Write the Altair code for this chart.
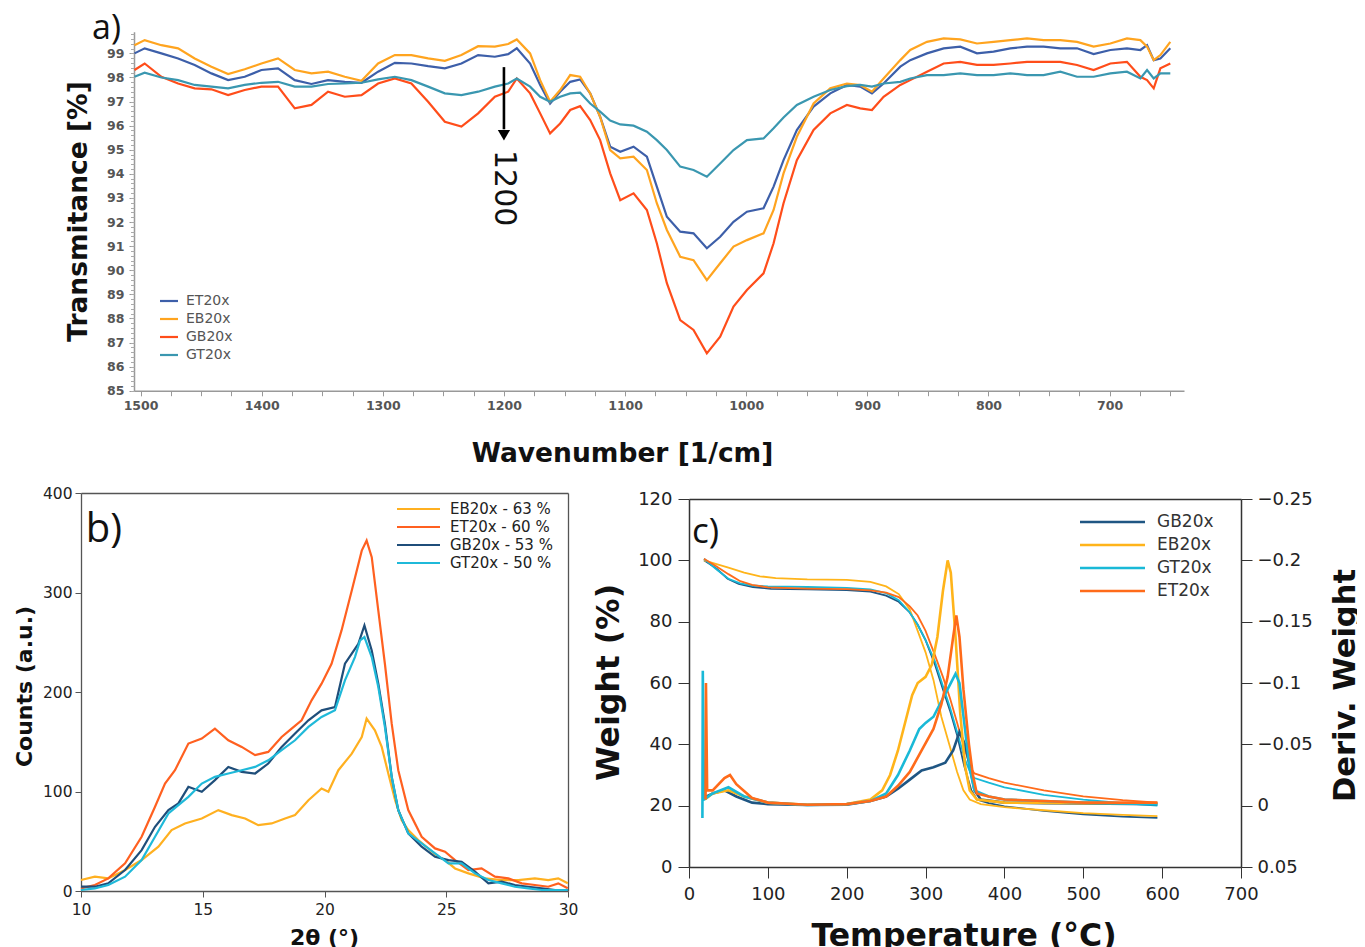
import altair as alt
import pandas as pd

# ---------------- layout constants (chart area = image minus 8px page margin) ----------------
W_CH, H_CH = 1349, 939
F = "DejaVu Sans"
F2 = "Open Sans"

# ---------------- panel a) FTIR ----------------
a_samples = ["ET20x", "EB20x", "GB20x", "GT20x"]
a_colors = ["#3d5fa9", "#ffa41f", "#ff4d1a", "#3a97b0"]
a_wavenumber = [1505, 1496.6, 1482.8, 1469.0, 1455.3, 1441.5, 1427.7, 1414.0, 1400.2, 1386.5, 1372.7,
                1358.9, 1345.2, 1331.4, 1317.6, 1303.9, 1290.1, 1276.4, 1262.6, 1248.8, 1235.1, 1221.3,
                1207.5, 1196.5,
                1189.4, 1178.4, 1170.1, 1161.9, 1153.6, 1145.3, 1137.1, 1128.8, 1120.6, 1112.3, 1104.0,
                1093.0, 1082.0, 1073.8, 1065.5, 1054.5, 1043.5, 1032.5, 1021.5, 1010.5, 999.4, 985.7,
                977.4, 969.2, 958.2, 944.4, 930.6, 916.9, 905.9, 896.2, 886.6, 872.8,
                864.6, 850.8, 837.0, 823.3, 809.5, 795.8, 782.0, 768.2, 754.5, 740.7, 726.9, 713.2,
                699.4, 685.7, 674.6, 669.1, 663.6, 658.1, 649.9]
a_EB20x = [99.34, 99.55, 99.34, 99.21, 98.79, 98.45, 98.14, 98.34, 98.58, 98.79, 98.31, 98.17, 98.24,
           98.03, 97.86, 98.58, 98.93, 98.93, 98.79, 98.69, 98.93, 99.30, 99.28, 99.39,
           99.58, 99.00, 97.89, 96.99, 97.48, 98.10, 98.03, 97.34, 96.37, 94.99, 94.64, 94.71, 94.16,
           92.78, 91.67, 90.56, 90.42, 89.59, 90.29, 90.98, 91.25, 91.53, 92.50, 94.02, 95.54, 96.92,
           97.55, 97.75, 97.69, 97.41, 97.96, 98.72,
           99.14, 99.48, 99.62, 99.58, 99.41, 99.48, 99.55, 99.62, 99.55, 99.55, 99.48, 99.28, 99.41,
           99.62, 99.55, 99.28, 98.72, 98.93, 99.48]
a_ET20x = [99.00, 99.21, 99.00, 98.79, 98.52, 98.17, 97.89, 98.03, 98.31, 98.38, 97.89, 97.73, 97.89,
           97.82, 97.78, 98.24, 98.61, 98.58, 98.47, 98.38, 98.58, 98.93, 98.86, 98.97,
           99.21, 98.58, 97.69, 96.92, 97.41, 97.82, 97.92, 97.34, 96.37, 95.13, 94.92, 95.13, 94.71,
           93.47, 92.22, 91.60, 91.53, 90.91, 91.39, 92.01, 92.43, 92.57, 93.47, 94.57, 95.82, 96.79,
           97.34, 97.69, 97.62, 97.34, 97.75, 98.45,
           98.72, 99.00, 99.21, 99.28, 99.00, 99.07, 99.21, 99.28, 99.28, 99.21, 99.21, 98.97, 99.14,
           99.21, 99.14, 99.34, 98.72, 98.79, 99.21]
a_GB20x = [98.31, 98.58, 98.03, 97.75, 97.55, 97.51, 97.27, 97.48, 97.62, 97.62, 96.72, 96.86, 97.41,
           97.20, 97.27, 97.75, 97.96, 97.75, 96.99, 96.16, 95.96, 96.51, 97.20, 97.41,
           97.96, 97.34, 96.51, 95.68, 96.09, 96.65, 96.81, 96.23, 95.40, 94.02, 92.91, 93.19, 92.50,
           91.12, 89.46, 87.93, 87.52, 86.55, 87.24, 88.49, 89.18, 89.87, 91.12, 92.78, 94.57, 95.82,
           96.51, 96.86, 96.72, 96.65, 97.20, 97.69,
           97.89, 98.24, 98.58, 98.65, 98.52, 98.52, 98.58, 98.65, 98.65, 98.65, 98.52, 98.31, 98.58,
           98.65, 98.03, 97.89, 97.55, 98.38, 98.58]
a_GT20x = [98.03, 98.20, 98.00, 97.89, 97.69, 97.62, 97.55, 97.69, 97.78, 97.82, 97.62, 97.62, 97.73,
           97.75, 97.78, 97.92, 98.03, 97.89, 97.62, 97.34, 97.27, 97.41, 97.62, 97.75,
           97.96, 97.62, 97.20, 96.99, 97.20, 97.34, 97.37, 96.92, 96.58, 96.21, 96.05, 96.00, 95.75,
           95.40, 94.99, 94.30, 94.16, 93.88, 94.43, 94.99, 95.40, 95.47, 95.89, 96.34, 96.86, 97.20,
           97.48, 97.64, 97.69, 97.62, 97.75, 97.82,
           97.96, 98.10, 98.10, 98.17, 98.10, 98.10, 98.17, 98.10, 98.10, 98.24, 98.03, 98.03, 98.17,
           98.24, 97.96, 98.31, 97.96, 98.17, 98.17]
a_arrow_wn = [1200]
a_arrow_top = [98.43]
a_arrow_bottom = [95.85]
a_arrow_head = [95.6]
a_annot_text = ["1200"]
a_annot_t = [94.99]
a_major_x = list(range(700, 1501, 100))
a_minor_x = list(range(650, 1501, 25))
a_major_y = list(range(85, 100))
a_minor_y = [round(85 + 0.2 * i, 1) for i in range(75)]

# ---------------- panel b) XRD ----------------
b_samples = ["EB20x - 63 %", "ET20x - 60 %", "GB20x - 53 %", "GT20x - 50 %"]
b_colors = ["#ffb020", "#ff6020", "#1f4e7a", "#1fb9d9"]
b_EB_theta = [10.0, 10.57, 11.12, 11.81, 12.49, 13.18, 13.72, 14.27, 14.96, 15.64, 16.19, 16.74, 17.28,
              17.83, 18.38, 18.79, 19.34, 19.88, 20.16, 20.57, 21.12, 21.53, 21.73, 22.07, 22.35, 22.62,
              22.90, 23.17, 23.44, 23.85, 24.26, 24.67, 24.95, 25.36, 25.91, 26.59, 27.28, 27.96, 28.64,
              29.19, 29.60, 29.99]
b_EB_counts = [11.0, 14.4, 12.7, 21.1, 31.1, 44.5, 61.2, 67.9, 72.9, 81.3, 76.3, 72.9, 66.2, 67.9, 72.9,
               76.3, 91.3, 103.0, 99.7, 121.4, 138.1, 154.8, 173.2, 161.5, 144.8, 118.1, 91.3, 71.2,
               61.2, 51.2, 42.8, 34.4, 31.1, 22.7, 17.7, 12.7, 11.0, 11.0, 12.7, 11.0, 12.7, 7.7]
b_ET_theta = [10.0, 10.57, 11.12, 11.81, 12.49, 13.04, 13.45, 13.86, 14.41, 14.96, 15.50, 16.05, 16.60,
              17.15, 17.69, 18.24, 18.65, 19.06, 19.47, 19.88, 20.29, 20.70, 21.12, 21.53, 21.73, 21.94,
              22.21, 22.48, 22.76, 23.03, 23.44, 23.99, 24.54, 24.95, 25.36, 25.91, 26.45, 27.00, 27.55,
              28.10, 28.64, 29.19, 29.60, 29.99]
b_ET_counts = [2.7, 6.0, 12.7, 27.8, 54.5, 84.6, 108.0, 121.4, 148.2, 153.2, 163.2, 151.5, 144.8, 136.5,
               139.8, 154.8, 163.2, 171.6, 191.6, 208.4, 228.4, 261.9, 302.0, 342.1, 352.2, 335.5, 281.9,
               228.4, 168.2, 121.4, 81.3, 54.5, 42.8, 39.5, 31.1, 21.1, 22.7, 14.4, 12.7, 7.7, 6.0, 4.3,
               7.7, 2.7]
b_GB_theta = [10.0, 10.57, 11.12, 11.81, 12.49, 13.04, 13.59, 14.00, 14.41, 14.96, 15.50, 16.05, 16.60,
              17.15, 17.69, 18.24, 18.79, 19.34, 19.88, 20.43, 20.84, 21.12, 21.39, 21.64, 21.94, 22.21,
              22.48, 22.76, 23.03, 23.44, 23.99, 24.54, 25.09, 25.63, 26.18, 26.73, 27.28, 27.82, 28.37,
              28.92, 29.47, 29.99]
b_GB_counts = [4.3, 4.3, 7.7, 21.1, 41.1, 64.5, 81.3, 88.0, 104.7, 99.7, 111.4, 124.7, 119.7, 118.1,
               128.1, 144.8, 158.2, 171.6, 181.6, 184.9, 228.4, 238.5, 248.5, 266.9, 241.8, 208.4, 168.2,
               114.7, 81.3, 57.9, 44.5, 34.4, 31.1, 29.4, 19.4, 7.7, 9.4, 6.0, 4.3, 2.7, 1.0, 1.0]
b_GT_theta = [10.0, 10.57, 11.12, 11.81, 12.49, 13.04, 13.59, 14.00, 14.41, 14.96, 15.50, 16.05, 16.60,
              17.15, 17.69, 18.24, 18.79, 19.34, 19.88, 20.43, 20.84, 21.25, 21.46, 21.64, 21.94, 22.21,
              22.48, 22.76, 23.03, 23.44, 23.99, 24.54, 25.09, 25.63, 26.18, 26.73, 27.28, 27.82, 28.37,
              28.92, 29.47, 29.99]
b_GT_counts = [1.0, 2.7, 6.0, 14.4, 31.1, 54.5, 77.9, 86.3, 94.6, 108.0, 114.7, 118.1, 121.4, 124.7,
               131.4, 141.5, 151.5, 164.9, 174.9, 181.6, 211.7, 235.1, 251.8, 255.2, 235.1, 205.0, 164.9,
               114.7, 81.3, 57.9, 47.8, 37.8, 27.8, 27.8, 17.7, 11.0, 7.7, 4.3, 2.7, 1.0, 1.0, 1.0]

# ---------------- panel c) TGA / DTG ----------------
c_samples = ["GB20x", "EB20x", "GT20x", "ET20x"]
c_colors = ["#1f5683", "#ffb41a", "#19b9d7", "#ff6b1a"]
c_GB_wT = [19, 35, 49, 63, 81, 104, 150, 200, 230, 250, 266, 280, 290, 300, 312, 322, 331, 340, 349, 358,
           365, 380, 400, 450, 500, 550, 594]
c_GB_w = [100, 97.3, 94, 92.3, 91.3, 90.7, 90.5, 90.3, 89.8, 88.5, 86.5, 83, 79, 74, 66, 58, 51, 43, 33,
          25, 22, 20.8, 19.8, 18.3, 17.2, 16.4, 16]
c_EB_wT = [19, 35, 50, 70, 90, 110, 150, 200, 230, 250, 266, 280, 290, 300, 310, 320, 330, 340, 348, 356,
           370, 400, 450, 500, 550, 594]
c_EB_w = [100, 98.8, 97.6, 96, 94.8, 94.2, 93.8, 93.6, 93, 91.5, 89, 84, 77, 70, 61, 49, 40, 31, 25, 22,
          20.5, 19.5, 18.5, 17.6, 17, 16.6]
c_GT_wT = [19, 35, 50, 65, 80, 100, 150, 200, 230, 250, 266, 280, 290, 300, 312, 322, 331, 340, 350, 358,
           362, 380, 400, 450, 500, 550, 594]
c_GT_w = [100.5, 97, 94, 92.5, 91.8, 91.5, 91.3, 91, 90.5, 89.3, 87, 83, 79, 74, 67, 59, 52, 44, 35, 30,
          29, 27.5, 26, 23.5, 22, 20.8, 20]
c_ET_wT = [19, 35, 50, 65, 80, 100, 150, 200, 230, 250, 266, 280, 290, 300, 312, 322, 331, 340, 350, 358,
           362, 380, 400, 450, 500, 550, 594]
c_ET_w = [100.5, 98, 95.5, 93.2, 92, 91.2, 90.8, 90.6, 90.2, 89.5, 88, 85, 82, 77, 69, 62, 55, 47, 38, 32,
          30.5, 29, 27.5, 25, 23, 21.8, 21]
c_GB_dT = [19, 22, 30, 45, 60, 80, 100, 150, 200, 230, 250, 265, 280, 295, 310, 325, 335, 343, 350, 356,
           362, 370, 400, 450, 500, 594]
c_GB_d = [-0.005, -0.0075, -0.01, -0.0125, -0.0075, -0.0025, -0.00125, -0.0005, -0.00075, -0.00375,
          -0.0075, -0.01375, -0.02125, -0.02875, -0.03125, -0.035, -0.045, -0.06, -0.05, -0.0325, -0.0125,
          -0.005, -0.0025, -0.002, -0.00175, -0.00125]
c_EB_dT = [20, 30, 50, 70, 100, 150, 200, 230, 245, 255, 265, 275, 283, 290, 300, 308, 315, 322, 328, 332,
           338, 344, 350, 356, 365, 400, 500, 594]
c_EB_d = [-0.005, -0.01, -0.0125, -0.0075, -0.0025, -0.00075, -0.00125, -0.005, -0.0125, -0.025, -0.045,
          -0.07, -0.09, -0.1, -0.105, -0.115, -0.1375, -0.175, -0.2, -0.19, -0.1375, -0.075, -0.0325,
          -0.0125, -0.005, -0.0025, -0.002, -0.002]
c_GT_dT = [17, 17.5, 19, 30, 50, 70, 100, 150, 200, 230, 250, 265, 280, 292, 300, 310, 320, 330, 338, 343,
           350, 356, 362, 380, 400, 450, 500, 594]
c_GT_d = [0.01, -0.11, -0.005, -0.01, -0.015, -0.0075, -0.0025, -0.0005, -0.00125, -0.00375, -0.01,
          -0.025, -0.045, -0.0625, -0.0675, -0.0725, -0.085, -0.0975, -0.1075, -0.1, -0.0625, -0.03,
          -0.0125, -0.0075, -0.005, -0.00375, -0.0025, -0.00125]
c_ET_dT = [21, 21.5, 23, 30, 45, 52, 60, 80, 100, 150, 200, 230, 250, 265, 280, 295, 310, 320, 328, 335,
           339, 343, 348, 355, 360, 365, 380, 400, 450, 500, 594]
c_ET_d = [-0.005, -0.1, -0.0125, -0.0125, -0.0225, -0.025, -0.0175, -0.00625, -0.0025, -0.00075, -0.00125,
          -0.00375, -0.0075, -0.01625, -0.0275, -0.045, -0.0625, -0.0825, -0.105, -0.1375, -0.155,
          -0.1375, -0.095, -0.05, -0.025, -0.01, -0.0075, -0.005, -0.00375, -0.0025, -0.0025]

panel_labels = ["a)", "b)", "c)"]

# ---------------- tables ----------------
def long(pairs, names, xn, yn):
    frames = []
    for (xs, ys), nm in zip(pairs, names):
        frames.append(pd.DataFrame({xn: xs, yn: ys, "sample": nm}))
    return pd.concat(frames, ignore_index=True)

df_a = long([(a_wavenumber, a_ET20x), (a_wavenumber, a_EB20x), (a_wavenumber, a_GB20x),
             (a_wavenumber, a_GT20x)], a_samples, "wn", "T")
df_b = long([(b_EB_theta, b_EB_counts), (b_ET_theta, b_ET_counts), (b_GB_theta, b_GB_counts),
             (b_GT_theta, b_GT_counts)], b_samples, "theta", "counts")
df_cw = long([(c_GB_wT, c_GB_w), (c_EB_wT, c_EB_w), (c_GT_wT, c_GT_w), (c_ET_wT, c_ET_w)],
             c_samples, "temp", "weight")
df_cd = long([(c_GB_dT, c_GB_d), (c_EB_dT, c_EB_d), (c_GT_dT, c_GT_d), (c_ET_dT, c_ET_d)],
             c_samples, "temp", "deriv")
df_arrow = pd.DataFrame({"wn": a_arrow_wn, "t1": a_arrow_top, "t2": a_arrow_bottom, "th": a_arrow_head,
                         "txt": a_annot_text, "tt": a_annot_t})
df_la = pd.DataFrame({"wn": [1540.0], "T": [99.6], "txt": [panel_labels[0]]})
df_lb = pd.DataFrame({"theta": [10.2], "counts": [350.8], "txt": [panel_labels[1]]})
df_lc = pd.DataFrame({"temp": [3.8], "weight": [105.6], "txt": [panel_labels[2]]})

# ---------------- scales ----------------
def sc(domain, rng):
    return alt.Scale(domain=domain, range=rng, nice=False, zero=False)

XA = ([1505.4, 638.6], [126, 1176])
YA = ([85, 99.9], [382.7, 23.7])
XB = ([10, 30], [73, 560])
YB = ([0, 400], [883, 485])
XC = ([0, 700], [681, 1233])
YC = ([0, 120], [859, 491])
YD = ([-0.25, 0.05], [491, 859])


def ax(orient, offset, **kw):
    d = dict(orient=orient, offset=offset, grid=False, labelOverlap=False, labelFlush=False)
    d.update(kw)
    return alt.Axis(**d)


def frame_axis(orient, offset, color):
    return ax(orient, offset, labels=False, ticks=False, domain=True, domainColor=color,
              domainWidth=1.3, title=None)

# ---------------- panel a ----------------
a_style = dict(labelFont=F, labelFontSize=12.5, labelFontWeight="bold", labelColor="#555",
               tickColor="#999", domainColor="#999", domainWidth=1.5, tickSize=5,
               titleFont=F, titleFontSize=26.5, titleFontWeight="bold", titleColor="#111",
               titleAlign="center", titleBaseline="alphabetic")
a_xaxis = ax("bottom", 382.7 - H_CH, values=a_major_x, format="d", labelPadding=4,
             title="Wavenumber [1/cm]", titleX=614, titleY=71, **a_style)
a_yaxis = ax("left", -126, values=a_major_y, format="d", labelPadding=5,
             title="Transmitance [%]", titleX=-48, titleY=203, titleAngle=270, **a_style)
a_xminor = ax("bottom", 382.7 - H_CH, values=a_minor_x, labels=False, domain=False, tickColor="#999",
              tickSize=5, title=None)
a_yminor = ax("left", -126, values=a_minor_y, labels=False, domain=False, tickColor="#aaa",
              tickSize=3.5, title=None)

a_lines = alt.Chart(df_a).mark_line(strokeWidth=2.2).encode(
    x=alt.X("wn:Q", scale=sc(*XA), axis=a_xaxis),
    y=alt.Y("T:Q", scale=sc(*YA), axis=a_yaxis),
    color=alt.Color("sample:N", scale=alt.Scale(domain=a_samples, range=a_colors),
                    legend=alt.Legend(orient="none", legendX=150.5, legendY=282.5, title=None,
                                      symbolType="stroke", symbolSize=324, symbolStrokeWidth=2.2,
                                      labelFont=F, labelFontSize=14, labelColor="#555",
                                      labelOffset=6.5, rowPadding=0, padding=0)),
)
a_rule = alt.Chart(df_arrow).mark_rule(color="black", strokeWidth=2.6).encode(
    x=alt.X("wn:Q", scale=sc(*XA), axis=a_xminor),
    y=alt.Y("t1:Q", scale=sc(*YA), axis=a_yminor),
    y2="t2:Q",
)
a_head = alt.Chart(df_arrow).mark_point(shape="triangle-down", filled=True, color="black", size=150,
                                        opacity=1).encode(
    x=alt.X("wn:Q", scale=sc(*XA), axis=None),
    y=alt.Y("th:Q", scale=sc(*YA), axis=None),
)
a_text = alt.Chart(df_arrow).mark_text(angle=90, align="left", baseline="middle", font=F, fontSize=30,
                                       color="#111").encode(
    x=alt.X("wn:Q", scale=sc(*XA), axis=None),
    y=alt.Y("tt:Q", scale=sc(*YA), axis=None),
    text="txt:N",
)
a_lab = alt.Chart(df_la).mark_text(align="left", baseline="alphabetic", font=F2, fontSize=34,
                                   color="#111").encode(
    x=alt.X("wn:Q", scale=sc(*XA), axis=None),
    y=alt.Y("T:Q", scale=sc(*YA), axis=None),
    text="txt:N",
)

# ---------------- panel b ----------------
b_style = dict(labelFont=F, labelFontSize=15.5, labelColor="#222", tickColor="#555",
               domainColor="#555", domainWidth=1.3, tickSize=6,
               titleFont=F, titleFontSize=22, titleFontWeight="bold", titleColor="#111",
               titleAlign="center", titleBaseline="alphabetic")
b_lines = alt.Chart(df_b).mark_line(strokeWidth=2.2).encode(
    x=alt.X("theta:Q", scale=sc(*XB),
            axis=ax("bottom", 883 - H_CH, values=[10, 15, 20, 25, 30], format="d", labelPadding=5,
                    title="2θ (°)", titleX=316, titleY=53, **b_style)),
    y=alt.Y("counts:Q", scale=sc(*YB),
            axis=ax("left", -73, values=[0, 100, 200, 300, 400], format="d", labelPadding=3,
                    title="Counts (a.u.)", titleX=-50, titleY=678, titleAngle=270, **b_style)),
    color=alt.Color("sample:N", scale=alt.Scale(domain=b_samples, range=b_colors),
                    legend=alt.Legend(orient="none", legendX=402, legendY=492.5, title=None,
                                      symbolType="M-3,0H3", symbolSize=205.4, symbolStrokeWidth=2.2,
                                      labelFont=F, labelFontSize=15, labelColor="#222",
                                      labelOffset=23, rowPadding=1, padding=0)),
)
b_lab = alt.Chart(df_lb).mark_text(align="left", baseline="alphabetic", font=F2, fontSize=40,
                                   color="#111").encode(
    x=alt.X("theta:Q", scale=sc(*XB), axis=frame_axis("top", -485, "#555")),
    y=alt.Y("counts:Q", scale=sc(*YB), axis=frame_axis("right", 560 - W_CH, "#555")),
    text="txt:N",
)

# ---------------- panel c ----------------
c_style = dict(labelFont=F, labelFontSize=18, labelColor="#222", tickColor="#333",
               domainColor="#333", domainWidth=1.5, tickSize=11,
               titleFont=F, titleFontSize=31.5, titleFontWeight="bold", titleColor="#111",
               titleAlign="center", titleBaseline="alphabetic")
c_weight = alt.Chart(df_cw).mark_line(strokeWidth=1.8).encode(
    x=alt.X("temp:Q", scale=sc(*XC),
            axis=ax("bottom", 859 - H_CH, values=list(range(0, 701, 100)), format="d", labelPadding=7,
                    title="Temperature (°C)", titleX=955.5, titleY=78, **c_style)),
    y=alt.Y("weight:Q", scale=sc(*YC),
            axis=ax("left", -681, values=list(range(0, 121, 20)), format="d", labelPadding=6,
                    title="Weight (%)", titleX=-71, titleY=674, titleAngle=270, **c_style)),
    color=alt.Color("sample:N", scale=alt.Scale(domain=c_samples, range=c_colors),
                    legend=alt.Legend(orient="none", legendX=1095, legendY=504.5, title=None,
                                      symbolType="M-4,0H4", symbolSize=264, symbolStrokeWidth=2.5,
                                      labelFont=F, labelFontSize=17, labelColor="#333",
                                      labelOffset=35, rowPadding=5, padding=0)),
)
c_deriv_style = dict(c_style)
c_deriv_style["titleFontSize"] = 30.5
c_deriv = alt.Chart(df_cd).mark_line(strokeWidth=2.6).encode(
    x=alt.X("temp:Q", scale=sc(*XC), axis=frame_axis("top", -491, "#333")),
    y=alt.Y("deriv:Q", scale=sc(*YD),
            axis=ax("right", 1233 - W_CH, values=[-0.25, -0.2, -0.15, -0.1, -0.05, 0, 0.05],
                    format="~g", labelPadding=5, title="Deriv. Weight", titleX=113, titleY=677,
                    titleAngle=270, **c_deriv_style)),
    color=alt.Color("sample:N", scale=alt.Scale(domain=c_samples, range=c_colors), legend=None),
)
c_lab = alt.Chart(df_lc).mark_text(align="left", baseline="alphabetic", font=F2, fontSize=35,
                                   color="#111").encode(
    x=alt.X("temp:Q", scale=sc(*XC), axis=None),
    y=alt.Y("weight:Q", scale=sc(*YC), axis=None),
    text="txt:N",
)

chart = alt.layer(
    a_lines, a_rule, a_head, a_text, a_lab,
    b_lines, b_lab,
    c_weight, c_deriv, c_lab,
).resolve_scale(
    x="independent", y="independent", color="independent"
).properties(
    width=W_CH, height=H_CH, padding=0, background="white",
    autosize=alt.AutoSizeParams(type="none"),
).configure_view(stroke="transparent")

chart.save("out.html", embed_options={"renderer": "svg", "actions": False})
